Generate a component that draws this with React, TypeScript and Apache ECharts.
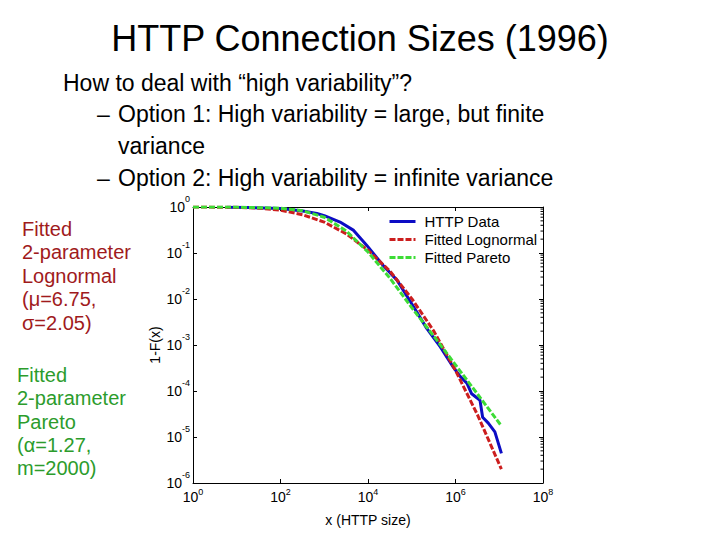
import React, { useEffect, useRef } from 'react';
import * as echarts from 'echarts';

const FONT = '"Liberation Sans", Arial, Helvetica, sans-serif';

// Complementary CDF, 1 - F(x), of HTTP connection sizes (bytes)
const httpSize = [6, 20, 100, 320, 680, 1000, 2300, 4700, 9300, 22000, 46000, 110000, 220000, 450000, 890000, 1.26e6, 1.82e6, 2.34e6, 3.63e6, 4.17e6, 5.62e6, 7.94e6, 1.12e7];
const httpTail = [0.99, 0.975, 0.93, 0.82, 0.72, 0.65, 0.47, 0.31, 0.148, 0.054, 0.0257, 0.0068, 0.0023, 0.00091, 0.00033, 0.00021, 0.000148, 8.7e-5, 6.3e-5, 2.7e-5, 2.0e-5, 1.29e-5, 4.4e-6];

const lognormalSize = [1, 10, 32, 100, 320, 1000, 3200, 10000, 32000, 100000, 320000, 1e6, 3.2e6, 1.12e7];
const lognormalTail = [1.0, 0.985, 0.945, 0.85, 0.68, 0.47, 0.26, 0.115, 0.04, 0.0102, 0.002, 0.00028, 3.0e-5, 2.0e-6];

const paretoSize = [1, 10, 100, 320, 1000, 3200, 10000, 32000, 100000, 320000, 1e6, 3.2e6, 1.12e7];
const paretoTail = [1.0, 0.994, 0.94, 0.83, 0.6, 0.3, 0.105, 0.028, 0.0065, 0.00155, 0.00037, 8.5e-5, 1.74e-5];

const seriesNames = ['HTTP Data', 'Fitted Lognormal', 'Fitted Pareto'];
const seriesColors = ['#0c0cc4', '#cc1e1e', '#3ddc36'];

const xTickValues = [1, 1e2, 1e4, 1e6, 1e8];
const yDecades = [-6, -5, -4, -3, -2, -1];
const minorSteps = [2, 3, 4, 5, 6, 7, 8, 9];

const headline = 'HTTP Connection Sizes (1996)';
const bulletLead = 'How to deal with “high variability”?';
const option1 = ['Option 1: High variability = large, but finite', 'variance'];
const option2 = 'Option 2: High variability = infinite variance';
const lognormalNote = ['Fitted', '2-parameter', 'Lognormal', '(μ=6.75,', 'σ=2.05)'];
const paretoNote = ['Fitted', '2-parameter', 'Pareto', '(α=1.27,', 'm=2000)'];

const pairs = (xs: number[], ys: number[]) => xs.map((x, i) => [x, ys[i]]);

const powerLabel = (v: number) => `{b|10}{e|${Math.round(Math.log10(v))}}`;

const text = (
  str: string,
  x: number,
  y: number,
  size: number,
  fill: string,
  align: 'left' | 'center' = 'left'
) => ({
  type: 'text',
  x,
  y,
  silent: true,
  style: {
    text: str,
    fontSize: size,
    fontFamily: FONT,
    fill,
    align,
    textAlign: align,
    verticalAlign: 'middle',
    textVerticalAlign: 'middle',
  },
});

export default function App() {
  const ref = useRef<HTMLDivElement>(null);

  useEffect(() => {
    document.body.style.margin = '0';
    if (!ref.current) return;
    const chart = echarts.init(ref.current, undefined, { renderer: 'svg' });

    const minorTicks: number[][] = [];
    yDecades.forEach((d) => minorSteps.forEach((k) => minorTicks.push([1e8, k * Math.pow(10, d)])));

    const axisLineStyle = { show: true, lineStyle: { color: '#000', width: 1 } };

    const graphics: any[] = [
      text(headline, 360, 38, 36, '#000', 'center'),
      text(bulletLead, 63, 83, 23, '#000'),
      text('–', 97, 114, 23, '#000'),
      text(option1[0], 118, 114, 23, '#000'),
      text(option1[1], 118, 146, 23, '#000'),
      text('–', 97, 178, 23, '#000'),
      text(option2, 118, 178, 23, '#000'),
    ];
    lognormalNote.forEach((s, i) => graphics.push(text(s, 22, 228.5 + i * 23.5, 20, '#a01a1c')));
    paretoNote.forEach((s, i) => graphics.push(text(s, 17, 375 + i * 23.3, 20, '#2c9c2c')));

    chart.setOption({
      animation: false,
      backgroundColor: '#fff',
      textStyle: { fontFamily: FONT },
      grid: { left: 193, top: 207, right: 177, bottom: 57, containLabel: false },
      legend: {
        data: seriesNames,
        orient: 'vertical',
        left: 388,
        top: 214,
        padding: 0,
        itemWidth: 26,
        itemHeight: 14,
        itemGap: 3,
        itemStyle: { opacity: 0 },
        lineStyle: { width: 3 },
        textStyle: { fontSize: 15, fontFamily: FONT, color: '#000', padding: [0, 0, 0, 4] },
      },
      xAxis: [
        {
          type: 'log',
          logBase: 10,
          min: 1,
          max: 1e8,
          position: 'bottom',
          name: 'x (HTTP size)',
          nameLocation: 'middle',
          nameGap: 30,
          nameTextStyle: { fontSize: 14, fontFamily: FONT, color: '#000' },
          axisLine: axisLineStyle,
          axisTick: { show: true, inside: true, length: 4, customValues: xTickValues, lineStyle: { color: '#000' } },
          axisLabel: {
            customValues: xTickValues,
            formatter: powerLabel,
            margin: 4,
            rich: {
              b: { fontSize: 14, fontFamily: FONT, color: '#000', lineHeight: 17, verticalAlign: 'bottom' },
              e: { fontSize: 9, fontFamily: FONT, color: '#000', verticalAlign: 'top' },
            },
          },
          splitLine: { show: false },
          minorTick: { show: false },
        },
        {
          type: 'log',
          logBase: 10,
          min: 1,
          max: 1e8,
          position: 'top',
          axisLine: axisLineStyle,
          axisTick: { show: true, inside: true, length: 4, customValues: xTickValues, lineStyle: { color: '#000' } },
          axisLabel: { show: false },
          splitLine: { show: false },
        },
      ],
      yAxis: [
        {
          type: 'log',
          logBase: 10,
          min: 1e-6,
          max: 1,
          position: 'left',
          name: '1-F(x)',
          nameLocation: 'middle',
          nameGap: 31,
          nameRotate: 90,
          nameTextStyle: { fontSize: 14, fontFamily: FONT, color: '#000' },
          axisLine: axisLineStyle,
          axisTick: { show: true, inside: true, length: 4, lineStyle: { color: '#000' } },
          axisLabel: {
            formatter: powerLabel,
            margin: 3,
            padding: [0, 0, 6, 0],
            rich: {
              b: { fontSize: 14, fontFamily: FONT, color: '#000', lineHeight: 20, verticalAlign: 'bottom' },
              e: { fontSize: 9, fontFamily: FONT, color: '#000', verticalAlign: 'top' },
            },
          },
          splitLine: { show: false },
        },
        {
          type: 'log',
          logBase: 10,
          min: 1e-6,
          max: 1,
          position: 'right',
          axisLine: axisLineStyle,
          axisTick: { show: true, inside: true, length: 4, lineStyle: { color: '#000' } },
          axisLabel: { show: false },
          splitLine: { show: false },
        },
      ],
      series: [
        {
          name: seriesNames[0],
          type: 'line',
          data: pairs(httpSize, httpTail),
          symbol: 'none',
          color: seriesColors[0],
          lineStyle: { color: seriesColors[0], width: 3 },
          z: 3,
        },
        {
          name: seriesNames[1],
          type: 'line',
          data: pairs(lognormalSize, lognormalTail),
          symbol: 'none',
          color: seriesColors[1],
          lineStyle: { color: seriesColors[1], width: 3, type: [6, 2] },
          z: 4,
        },
        {
          name: seriesNames[2],
          type: 'line',
          data: pairs(paretoSize, paretoTail),
          symbol: 'none',
          color: seriesColors[2],
          lineStyle: { color: seriesColors[2], width: 3, type: [6, 2] },
          z: 5,
        },
        {
          // log-spaced minor ticks along the right-hand frame
          type: 'custom',
          silent: true,
          clip: false,
          xAxisIndex: 0,
          yAxisIndex: 0,
          data: minorTicks,
          renderItem: (_params: any, api: any) => {
            const p = api.coord([api.value(0), api.value(1)]);
            return {
              type: 'line',
              shape: { x1: p[0] - 2.5, y1: p[1], x2: p[0], y2: p[1] },
              style: { stroke: '#000', lineWidth: 1 },
            };
          },
          z: 6,
        },
      ],
      graphic: graphics,
    });

    return () => chart.dispose();
  }, []);

  return <div ref={ref} style={{ width: 720, height: 540 }} />;
}
